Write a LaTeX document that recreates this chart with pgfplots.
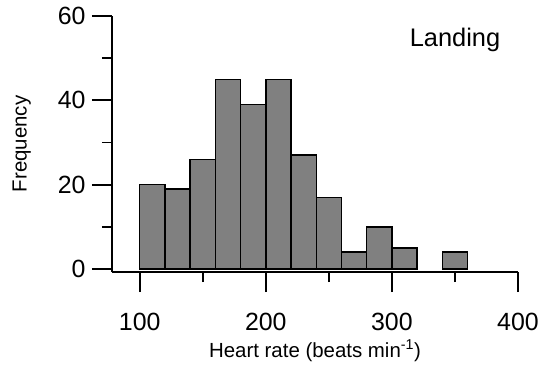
\documentclass[border=0pt]{standalone}
\usepackage{pgfplots}
\pgfplotsset{compat=1.18}
\usepackage{fontspec}
\setmainfont{Liberation Sans}
\begin{document}
\begin{tikzpicture}
\begin{axis}[
  scale only axis,
  width=406bp, height=256bp,
  xmin=78, xmax=400, ymin=-0.71, ymax=60,
  axis x line*=bottom, axis y line*=left,
  axis line style={line width=1.8pt, -},
  xtick={100,200,300,400}, minor xtick={150,250,350},
  ytick={0,20,40,60}, minor ytick={10,30,50},
  tick align=outside,
  major tick length=20bp, minor tick length=10bp,
  every tick/.style={black, line width=1.8pt},
  tick label style={font=\fontsize{25}{25}\selectfont},
  /pgf/number format/assume math mode=true,
  xticklabel style={yshift=-18bp},
  yticklabel style={xshift=-3bp},
  xlabel={Heart rate (beats min\textsuperscript{-1})},
  ylabel={Frequency},
  label style={font=\fontsize{20.5}{21}\selectfont},
  xlabel style={yshift=-2bp},
  ylabel style={yshift=20bp},
  clip=false,
]
\addplot[ybar interval, fill=black!50, draw=black, line width=1.4pt] coordinates {
 (100,20) (120,19) (140,26) (160,45) (180,39) (200,45) (220,27) (240,17) (260,4) (280,10) (300,5) (320,0)
};
\addplot[ybar interval, fill=black!50, draw=black, line width=1.4pt] coordinates {
 (340,4) (360,0)
};
\node[font=\fontsize{25.5}{26}\selectfont] at (axis cs:350,54.3) {Landing};
\end{axis}
\useasboundingbox (-112bp,-89bp) rectangle (432bp,272bp);
\end{tikzpicture}
\end{document}
